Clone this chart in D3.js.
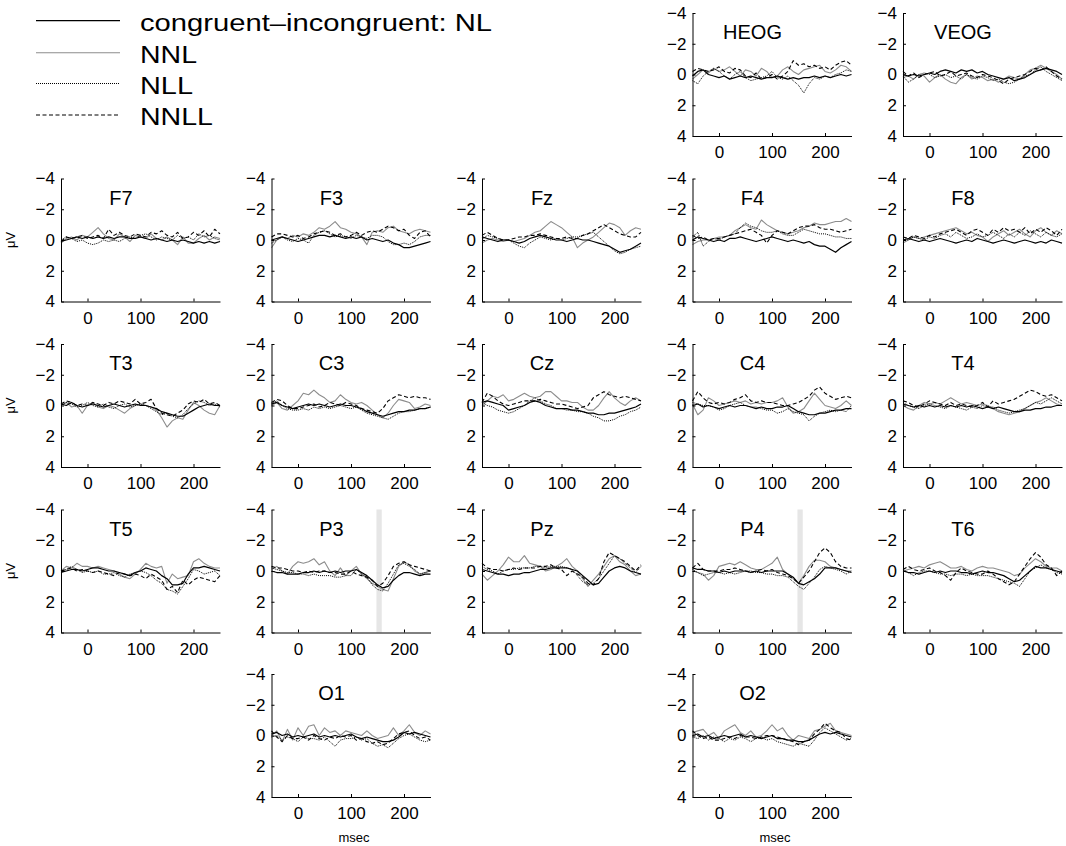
<!DOCTYPE html>
<html>
<head>
<meta charset="utf-8">
<script src="https://cdn.jsdelivr.net/npm/d3@7"></script>
<style>
	body { margin: 0; background: #fff; }
	svg text { font-family: "Liberation Sans", Arial, Helvetica, sans-serif; fill: #000; }
</style>
</head>
<body>
<svg id="chart" width="1066" height="846"></svg>
<script>

// sample times (msec)
var times = [-50,-40,-30,-20,-10, 0,10,20,30,40, 50,60,70,80,90, 100,110,120,130,140, 150,160,170,180,190, 200,210,220,230,240, 250];

var seriesNames = ['congruent\u2013incongruent: NL', 'NNL', 'NLL', 'NNLL'];
var yTicks = [-4, -2, 0, 2, 4];
var xTicks = [0, 100, 200];
var highlightRange = [148, 158];
var highlightChannels = ['P3', 'P4'];

// values in microvolts, one row per series: NL, NNL, NLL, NNLL
var HEOG = [
	[0.1,-0.2,-0.3,0.0,0.1, 0.2,0.1,0.3,0.2,0.1, 0.2,0.1,0.2,0.3,0.2, 0.2,0.1,0.2,0.3,0.2, 0.3,0.2,0.2,0.1,0.2, 0.1,0.2,0.1,0.0,0.1, 0.0],
	[0.3,0.0,-0.3,-0.1,-0.4, -0.2,-0.3,-0.5,-0.2,0.1, -0.3,-0.2,0.1,-0.4,-0.2, 0.2,0.1,-0.3,-0.5,-0.2, 0.0,-0.3,-0.4,-0.5,-0.6, -0.2,-0.1,-0.3,-0.6,-0.5, -0.2],
	[0.4,0.6,0.1,-0.2,-0.4, -0.2,0.1,0.3,0.0,-0.2, 0.2,0.4,0.3,0.2,0.1, -0.2,0.2,0.3,0.1,0.4, 0.7,1.2,0.6,0.2,0.3, 0.1,0.2,0.0,-0.1,-0.3, -0.2],
	[-0.2,-0.4,-0.3,-0.2,-0.3, -0.5,-0.2,-0.1,-0.4,-0.3, 0.1,0.2,-0.1,0.3,0.2, 0.0,0.3,0.1,-0.2,-0.9, -0.6,-0.7,-0.5,-0.6,-0.4, -0.5,-0.3,-0.6,-0.8,-0.9, -0.6]
];
var VEOG = [
	[0.0,0.1,0.0,0.1,0.0, -0.1,0.0,-0.2,-0.3,-0.2, -0.1,-0.3,-0.2,-0.3,-0.1, -0.2,0.0,0.1,0.2,0.3, 0.2,0.4,0.3,0.2,0.0, -0.2,-0.3,-0.4,-0.3,-0.2, 0.0],
	[0.2,0.1,0.3,0.0,0.1, 0.5,0.2,0.0,0.3,0.5, 0.6,0.2,0.0,0.3,0.1, 0.2,0.4,0.3,0.5,0.3, 0.1,0.2,0.3,0.0,-0.3, -0.4,-0.6,-0.4,-0.2,0.0, 0.3],
	[0.1,0.5,0.3,0.0,-0.1, 0.0,0.2,0.1,0.0,0.2, 0.1,0.3,0.0,0.2,0.3, 0.1,0.2,0.4,0.3,0.5, 0.6,0.5,0.3,0.1,0.0, -0.3,-0.5,-0.2,0.0,0.2, 0.4],
	[-0.2,0.1,-0.1,0.2,0.0, -0.1,-0.2,0.1,0.0,-0.2, 0.1,0.0,-0.1,0.1,0.2, 0.0,0.1,0.2,0.4,0.6, 0.3,0.2,0.1,0.0,-0.2, -0.4,-0.3,-0.5,-0.2,0.1, 0.3]
];
var F7 = [
	[0.1,0.0,-0.1,-0.2,-0.1, -0.2,-0.1,-0.2,-0.1,-0.2, -0.1,-0.2,-0.2,-0.1,-0.1, -0.2,-0.1,0.0,-0.1,0.0, 0.1,0.0,0.1,0.0,0.1, 0.2,0.1,0.2,0.1,0.2, 0.1],
	[0.2,-0.1,-0.2,0.0,-0.3, -0.2,-0.5,-0.8,-0.4,-0.1, 0.0,-0.4,-0.2,0.1,-0.3, -0.2,-0.1,-0.4,-0.1,0.0, -0.2,0.0,0.3,-0.2,0.2, 0.2,-0.1,-0.3,0.0,-0.2, -0.1],
	[0.0,-0.2,-0.1,0.1,0.0, 0.2,0.3,0.2,0.0,0.1, 0.0,0.1,-0.1,-0.2,-0.1, -0.3,-0.4,-0.2,0.0,-0.2, -0.1,0.0,-0.3,-0.1,-0.2, 0.0,-0.4,-0.2,-0.3,-0.1, 0.0],
	[0.1,-0.2,-0.1,-0.2,-0.3, -0.1,-0.2,-0.3,-0.1,-0.7, -0.3,-0.5,-0.3,-0.2,-0.4, -0.3,-0.2,-0.5,-0.4,-0.6, -0.3,-0.2,-0.5,-0.1,-0.2, -0.5,-0.3,-0.6,-0.2,-0.7, -0.4]
];
var F3 = [
	[0.0,-0.1,-0.2,-0.1,0.0, 0.1,0.0,-0.1,-0.2,-0.3, -0.3,-0.2,-0.3,-0.2,-0.1, -0.2,-0.1,-0.2,0.0,-0.1, 0.0,0.1,0.0,0.2,0.3, 0.5,0.5,0.4,0.3,0.2, 0.1],
	[0.5,0.0,-0.2,-0.1,-0.3, -0.2,-0.4,-0.3,-0.5,-0.8, -0.7,-0.9,-1.2,-0.8,-0.7, -0.5,-0.4,-0.2,0.3,-0.5, -0.6,-0.5,-0.8,-0.9,-0.6, -0.5,-0.4,-0.6,-0.7,-0.6, -0.5],
	[0.2,0.0,-0.2,0.0,0.1, -0.1,0.0,0.2,-0.3,-0.5, -0.6,-0.4,-0.2,-0.3,-0.2, -0.1,-0.3,-0.2,-0.1,-0.3, -0.3,-0.2,0.1,0.3,0.3, 0.2,0.3,0.1,-0.2,-0.3, -0.3],
	[-0.2,-0.4,-0.4,-0.3,-0.2, -0.3,-0.1,-0.2,-0.4,-0.5, -0.6,-0.5,-0.3,-0.4,-0.2, -0.3,-0.5,-0.3,-0.5,-0.6, -0.5,-0.7,-0.9,-0.8,-0.6, -0.7,-0.3,-0.1,-0.5,-0.6, -0.2]
];
var Fz = [
	[-0.2,-0.1,0.0,0.1,0.0, 0.0,0.1,0.2,0.1,-0.1, -0.2,-0.3,-0.2,-0.1,0.0, 0.0,0.1,0.0,-0.1,0.0, 0.0,0.1,0.2,0.3,0.4, 0.6,0.8,0.7,0.6,0.4, 0.2],
	[0.2,0.0,-0.1,0.0,0.1, 0.0,0.1,0.0,-0.1,-0.3, -0.5,-0.6,-0.9,-1.2,-1.0, -0.8,-0.5,-0.2,0.5,0.2, 0.0,-0.2,-0.5,-0.8,-1.1, -1.0,-0.8,-0.3,-0.6,-0.8, -0.7],
	[0.0,-0.3,-0.2,-0.1,0.0, 0.0,0.2,0.4,0.5,0.2, 0.0,-0.2,-0.1,0.0,-0.1, 0.0,-0.1,-0.2,-0.2,-0.3, -0.4,-0.5,-0.2,0.1,0.4, 0.7,0.9,0.8,0.6,0.5, 0.4],
	[-0.3,-0.5,-0.3,-0.1,0.0, 0.0,-0.1,-0.2,-0.2,-0.3, -0.3,-0.4,-0.3,-0.2,-0.1, -0.1,-0.2,-0.1,-0.1,-0.3, -0.4,-0.6,-0.8,-1.0,-0.8, -0.6,-0.4,-0.3,-0.2,-0.2, -0.5]
];
var F4 = [
	[0.0,-0.2,-0.1,0.0,0.1, 0.0,0.1,-0.1,-0.1,-0.2, -0.1,0.0,0.1,0.0,-0.1, -0.2,-0.1,0.0,0.1,0.0, 0.1,0.2,0.1,0.3,0.4, 0.4,0.6,0.8,0.5,0.3, 0.1],
	[0.3,0.1,0.0,0.0,-0.1, -0.2,-0.2,-0.3,-0.6,-0.8, -1.0,-0.8,-0.7,-1.3,-1.0, -0.8,-0.6,-0.5,-0.4,-0.5, -0.6,-0.8,-0.9,-1.1,-1.0, -1.0,-1.1,-1.2,-1.2,-1.4, -1.2],
	[-0.2,-0.5,0.4,0.1,-0.1, 0.0,-0.2,-0.3,-0.4,-0.8, -1.1,-0.9,-0.8,-0.6,-0.5, -0.5,-0.6,-0.4,-0.3,-0.3, -0.5,-0.7,-0.6,-0.5,-0.4, -0.4,-0.3,-0.2,-0.2,-0.1, -0.1],
	[-0.3,-0.1,-0.2,0.0,-0.1, -0.1,-0.2,-0.3,-0.4,-0.5, -0.6,-0.7,-0.5,-0.3,0.2, -0.3,-0.6,-0.5,-0.4,-0.6, -0.8,-0.9,-0.9,-1.0,-0.8, -0.7,-0.7,-0.6,-0.5,-0.6, -0.7]
];
var F8 = [
	[0.0,-0.1,0.0,0.1,0.0, 0.1,0.0,-0.1,0.0,0.1, 0.2,0.1,0.0,0.1,-0.1, 0.0,0.1,0.2,0.1,0.0, 0.1,0.2,0.1,0.0,0.1, 0.2,0.1,0.2,0.0,0.1, 0.2],
	[0.2,0.0,-0.2,-0.1,-0.2, -0.3,-0.4,-0.5,-0.6,-0.7, -0.8,-0.6,-0.4,-0.5,-0.3, -0.2,0.1,-0.2,-0.4,-0.6, -0.3,-0.5,-0.7,-0.4,-0.2, -0.6,-0.8,-0.5,-0.3,-0.6, -0.4],
	[-0.1,0.0,-0.2,-0.1,0.0, -0.2,-0.1,-0.3,-0.4,-0.2, -0.5,-0.3,-0.1,-0.2,-0.4, -0.2,-0.3,-0.5,-0.3,-0.1, -0.4,-0.2,-0.5,-0.3,-0.6, -0.4,-0.2,-0.5,-0.3,-0.2, -0.4],
	[-0.2,-0.1,-0.3,-0.2,-0.1, -0.3,-0.2,-0.4,-0.5,-0.6, -0.7,-0.5,-0.3,-0.6,-0.7, -0.5,-0.3,-0.7,-0.5,-0.8, -0.6,-0.7,-0.5,-0.8,-0.4, -0.7,-0.5,-0.8,-0.6,-0.3, -0.7]
];
var T3 = [
	[-0.1,0.0,-0.2,0.0,0.1, 0.0,-0.1,0.0,0.1,0.0, -0.1,0.0,0.1,0.0,-0.1, 0.0,0.0,0.1,0.2,0.4, 0.5,0.6,0.7,0.7,0.5, 0.3,0.1,0.0,-0.1,0.0, 0.0],
	[0.0,-0.2,0.1,0.0,0.5, 0.0,-0.2,0.1,0.2,0.0, 0.1,0.3,0.5,0.2,0.0, -0.1,0.0,0.1,0.3,0.8, 1.4,1.0,0.8,0.9,0.3, -0.2,0.0,0.3,0.5,0.6, 0.0],
	[0.0,-0.2,-0.1,0.1,0.0, -0.2,0.0,0.1,-0.1,0.1, 0.2,0.0,-0.1,0.1,0.0, -0.1,0.0,0.2,0.4,0.6, 0.5,0.7,0.8,0.6,0.2, -0.1,-0.3,-0.2,0.0,-0.1, 0.1],
	[-0.1,-0.3,-0.2,0.0,-0.1, 0.0,-0.2,-0.1,0.0,-0.2, -0.1,-0.3,-0.2,-0.1,-0.4, -0.1,-0.2,-0.4,0.2,0.5, 0.6,0.7,0.5,0.3,-0.1, -0.3,-0.2,-0.4,-0.1,-0.2, 0.0]
];
var C3 = [
	[-0.1,-0.2,0.0,0.1,0.2, 0.1,0.0,-0.1,0.0,-0.1, 0.0,0.1,0.0,-0.1,0.0, 0.0,0.1,0.2,0.4,0.5, 0.6,0.7,0.6,0.5,0.4, 0.4,0.3,0.3,0.2,0.2, 0.1],
	[0.0,-0.2,0.2,0.3,0.0, -0.3,-0.8,-0.7,-1.0,-0.7, -0.5,-0.2,-0.3,-0.7,-0.4, -0.2,-0.1,-0.2,0.0,0.3, 0.6,0.8,0.5,0.0,-0.4, -0.3,-0.2,0.2,0.1,-0.1, 0.0],
	[-0.1,-0.3,0.0,0.2,0.3, 0.3,0.2,0.3,0.1,0.2, 0.1,0.2,0.1,0.0,0.1, 0.2,0.1,0.3,0.5,0.6, 0.7,0.8,0.9,0.7,0.5, 0.4,0.4,0.3,0.2,0.2, 0.1],
	[-0.2,-0.4,-0.3,0.0,0.2, 0.2,0.1,0.0,-0.1,0.1, 0.0,-0.2,-0.1,0.0,-0.2, -0.1,0.0,0.2,0.3,0.4, 0.5,0.2,-0.3,-0.5,-0.7, -0.6,-0.5,-0.6,-0.5,-0.5, -0.4]
];
var Cz = [
	[-0.2,-0.3,-0.2,-0.1,0.0, 0.3,0.2,0.1,0.0,-0.2, -0.3,-0.2,0.0,0.1,0.2, 0.2,0.2,0.3,0.3,0.4, 0.5,0.5,0.6,0.6,0.5, 0.5,0.4,0.3,0.2,0.1, -0.1],
	[0.0,-0.3,-0.6,-0.5,-0.7, -0.3,-0.4,-0.6,-0.8,-0.6, -0.5,-0.6,-0.9,-0.9,-0.6, -0.3,-0.3,-0.2,-0.2,0.1, 0.3,0.3,0.0,-0.5,-0.9, -0.5,-0.2,0.0,-0.3,-0.5, -0.3],
	[-0.2,0.0,0.1,0.3,0.4, 0.5,0.4,0.2,0.0,-0.3, -0.5,-0.3,-0.1,0.0,0.2, 0.2,0.3,0.3,0.4,0.4, 0.5,0.7,0.8,1.0,1.0, 0.9,0.7,0.6,0.4,0.3, 0.1],
	[-0.2,-0.8,-0.6,-0.3,-0.1, 0.0,-0.1,-0.2,-0.3,-0.3, -0.3,-0.4,-0.3,-0.2,-0.1, -0.1,0.0,0.1,0.2,0.1, 0.0,-0.5,-0.7,-0.9,-0.7, -0.6,-0.5,-0.6,-0.5,-0.4, -0.3]
];
var C4 = [
	[0.0,-0.1,0.1,0.0,0.1, 0.2,0.1,0.0,0.1,0.0, 0.0,0.1,0.2,0.1,0.2, 0.2,0.1,0.1,0.0,0.2, 0.4,0.5,0.6,0.6,0.5, 0.5,0.4,0.3,0.3,0.2, 0.2],
	[-0.1,0.6,0.3,-0.5,-0.3, 0.0,-0.1,-0.2,-0.3,-0.2, -0.3,-0.1,-0.2,-0.1,-0.2, -0.2,-0.3,-0.5,0.1,0.5, 0.4,0.2,-0.3,-0.8,-0.4, 0.0,0.1,0.2,0.0,-0.3, 0.0],
	[-0.2,-0.1,0.0,0.0,0.1, 0.3,0.2,0.0,-0.1,-0.2, 0.0,0.1,0.1,0.2,0.3, 0.3,0.5,0.4,0.2,0.4, 0.5,0.6,1.0,0.7,0.5, 0.4,0.3,0.4,0.3,0.4, 0.0],
	[-0.3,-0.9,-0.5,-0.2,-0.1, -0.2,-0.1,-0.2,-0.4,-0.5, -0.7,-0.3,-0.2,-0.3,-0.2, -0.2,-0.1,0.0,0.0,-0.1, -0.2,-0.4,-0.6,-1.0,-1.2, -0.8,-0.6,-0.4,-0.5,-0.6, -0.5]
];
var T4 = [
	[-0.1,0.0,0.1,0.0,0.1, 0.0,0.1,0.0,0.1,0.0, 0.1,0.0,0.1,0.0,0.1, 0.2,0.1,0.2,0.1,0.2, 0.3,0.4,0.4,0.3,0.3, 0.2,0.2,0.1,0.1,0.0, 0.0],
	[0.0,0.2,0.3,0.0,-0.2, -0.1,-0.2,-0.1,-0.3,-0.5, -0.3,-0.1,-0.2,-0.1,0.0, -0.1,0.0,0.2,0.4,0.5, 0.6,0.5,0.4,0.2,0.0, -0.2,-0.3,-0.5,-0.3,-0.1, 0.0],
	[-0.2,0.0,0.1,0.2,0.0, -0.1,0.0,0.1,0.2,0.0, 0.1,0.2,0.3,0.1,0.2, 0.0,0.1,0.1,0.3,0.4, 0.5,0.4,0.3,0.2,0.0, -0.2,-0.1,-0.3,-0.5,-0.3, -0.1],
	[-0.3,-0.2,0.0,0.1,-0.1, -0.3,-0.2,-0.1,0.0,-0.2, 0.0,-0.1,0.0,0.1,0.0, -0.2,0.1,-0.3,-0.1,-0.2, -0.3,-0.4,-0.6,-0.8,-1.0, -0.9,-0.7,-0.6,-0.7,-0.5, -0.3]
];
var T5 = [
	[0.1,0.0,-0.1,-0.1,0.0, -0.1,-0.2,-0.2,-0.1,0.0, 0.0,0.1,0.2,0.3,0.1, 0.0,-0.2,-0.1,0.0,0.3, 0.5,0.9,0.9,0.8,0.2, -0.2,-0.2,-0.3,-0.2,-0.1, 0.0],
	[0.0,-0.3,-0.2,-0.5,-0.3, -0.3,-0.2,-0.3,-0.2,-0.1, 0.0,0.2,0.4,0.5,0.2, -0.1,-0.5,-0.3,-0.2,-0.3, 0.8,0.2,0.5,0.4,0.3, -0.6,-0.8,-0.5,-0.3,-0.2, -0.2],
	[0.0,-0.1,-0.3,-0.1,0.1, 0.0,0.1,0.0,0.2,0.2, 0.1,0.3,0.4,0.2,0.1, 0.0,0.1,0.3,0.6,0.8, 1.2,1.3,1.5,1.0,0.5, -0.1,0.0,0.2,0.1,0.0, 0.3],
	[0.0,-0.1,-0.2,0.0,-0.1, 0.0,0.1,0.0,0.1,0.2, 0.3,0.1,0.2,0.3,0.2, 0.3,0.5,0.2,0.4,0.6, 1.2,1.0,1.4,0.6,0.9, 0.6,0.4,0.5,0.6,0.7, 0.3]
];
var P3 = [
	[0.0,0.1,0.1,0.2,0.2, 0.2,0.1,0.1,0.0,0.1, 0.0,0.1,0.0,0.1,0.0, 0.0,-0.1,0.1,0.3,0.6, 0.9,1.1,1.0,0.6,0.3, 0.1,0.1,0.2,0.3,0.2, 0.2],
	[-0.1,-0.3,0.0,0.2,-0.3, -0.6,-0.5,-0.6,-0.8,-0.4, -0.6,0.0,0.3,-0.2,0.3, 0.0,-0.3,0.2,0.5,0.8, 1.0,1.2,1.3,0.5,-0.3, -0.6,-0.4,0.0,0.2,0.1, 0.0],
	[-0.2,-0.1,0.0,0.1,0.1, 0.2,0.2,0.3,0.2,0.3, 0.3,0.3,0.4,0.4,0.3, 0.3,-0.1,0.2,0.4,0.9, 1.2,1.3,0.8,0.2,-0.4, -0.5,-0.3,-0.1,0.2,0.1, 0.0],
	[-0.3,-0.2,-0.2,-0.1,0.0, 0.0,0.1,0.0,0.1,0.0, 0.0,0.1,0.1,0.2,0.2, 0.0,0.2,0.3,0.4,0.6, 1.0,0.8,0.3,-0.3,-0.5, -0.6,-0.4,-0.3,-0.2,-0.1, 0.0]
];
var Pz = [
	[-0.1,0.0,0.1,0.2,0.2, 0.3,0.2,0.2,0.1,0.1, 0.0,-0.1,-0.1,-0.2,-0.2, -0.2,-0.2,-0.1,0.0,0.3, 0.6,0.9,0.8,0.4,0.0, -0.2,-0.3,-0.2,0.0,0.1, 0.2],
	[0.2,0.6,0.3,0.0,-0.4, -0.9,-0.6,-0.6,-1.0,-0.5, -0.4,-0.3,0.0,-0.1,-0.3, -0.5,-0.8,-0.3,0.0,0.5, 1.0,0.6,0.2,-0.3,-0.8, -1.0,-0.6,-0.4,0.0,0.3, 0.2],
	[-0.3,-0.1,0.0,0.2,0.0, -0.1,-0.1,-0.2,-0.2,-0.2, -0.3,-0.3,-0.2,-0.3,-0.3, -0.3,-0.2,-0.1,0.3,0.7, 0.9,0.8,0.5,0.0,-0.5, -1.0,-0.8,-0.5,-0.2,0.1, -0.3],
	[-0.5,-0.2,-0.1,-0.1,0.0, -0.1,-0.2,-0.1,-0.2,-0.2, -0.2,-0.3,-0.3,-0.4,-0.2, -0.1,0.3,0.0,0.2,0.4, 0.8,0.9,0.5,-0.6,-1.2, -1.0,-0.8,-0.6,-0.3,0.0, -0.4]
];
var P4 = [
	[-0.2,-0.1,-0.1,0.0,0.0, 0.1,0.0,0.1,0.0,0.0, 0.0,0.1,0.0,0.1,0.0, 0.0,0.0,0.0,0.2,0.4, 0.8,0.9,0.7,0.5,0.2, -0.2,-0.2,-0.2,-0.1,0.0, 0.1],
	[0.0,0.1,0.2,0.6,0.3, -0.3,-0.4,-0.5,-0.4,-0.6, -0.4,-0.2,-0.1,-0.1,-0.3, -0.5,-0.9,-0.1,0.2,0.5, 0.8,0.3,-0.3,-0.7,-0.7, -0.6,-0.3,-0.2,-0.1,0.0, 0.0],
	[-0.1,0.1,0.3,0.2,0.1, 0.1,0.2,0.1,0.2,0.1, 0.0,0.0,0.1,0.1,0.2, 0.2,0.3,0.3,0.4,0.7, 1.0,1.2,0.8,0.4,-0.1, -0.3,-0.2,-0.1,0.0,0.2, 0.0],
	[-0.2,-0.5,-0.1,0.0,0.0, 0.0,-0.1,-0.1,-0.2,-0.1, 0.0,0.1,0.0,-0.1,0.0, -0.1,0.1,0.2,0.3,0.5, 0.8,0.4,0.0,-0.6,-1.2, -1.5,-1.2,-0.6,-0.3,-0.2, -0.2]
];
var T6 = [
	[0.0,0.1,0.1,0.2,0.1, 0.0,0.1,0.0,0.1,0.0, 0.0,0.1,0.1,0.2,0.1, 0.0,0.1,0.1,0.2,0.3, 0.5,0.7,0.6,0.3,0.0, -0.3,-0.2,-0.2,-0.1,0.0, 0.1],
	[0.0,-0.1,-0.2,-0.3,-0.2, -0.4,-0.5,-0.6,-0.4,-0.2, -0.2,-0.3,-0.1,0.0,-0.2, -0.3,-0.2,-0.2,-0.1,0.0, 0.1,0.3,0.2,-0.2,-0.5, -0.8,-0.6,-0.3,-0.2,-0.2, 0.0],
	[-0.1,0.1,0.3,0.1,0.0, 0.0,0.1,0.2,0.2,0.3, 0.2,0.2,0.3,0.2,0.3, 0.3,0.3,0.4,0.5,0.6, 0.7,0.8,1.0,0.5,0.0, -0.2,-0.4,-0.2,-0.1,0.1, 0.2],
	[-0.1,-0.3,-0.1,0.0,-0.1, -0.2,0.0,0.1,0.3,0.6, 0.1,-0.2,0.0,0.1,0.2, 0.2,0.0,0.2,0.5,0.7, 0.9,0.7,0.2,-0.3,-0.8, -1.2,-0.9,-0.4,-0.2,0.3, 0.0]
];
var O1 = [
	[-0.1,-0.2,0.0,-0.1,0.1, 0.0,0.1,0.0,-0.1,0.1, 0.0,0.1,0.0,0.1,0.0, -0.1,0.1,0.2,0.1,0.2, 0.3,0.4,0.4,0.3,0.1, -0.2,-0.1,-0.2,-0.1,0.0, 0.1],
	[0.0,-0.3,0.4,-0.4,0.3, -0.5,0.0,-0.6,-0.7,0.0, -0.5,-0.2,-0.3,0.0,-0.3, -0.2,-0.1,0.0,-0.3,0.0, 0.2,0.1,0.0,-0.5,0.0, -0.3,-0.7,-0.2,0.0,-0.3, -0.1],
	[0.1,0.0,0.3,0.1,0.2, 0.4,0.1,0.2,0.2,0.3, 0.1,0.4,0.7,0.3,0.2, 0.2,0.1,0.3,0.2,0.5, 0.7,0.6,0.8,0.5,0.2, 0.0,-0.1,0.1,0.3,0.4, 0.3],
	[-0.3,0.1,0.4,0.0,0.2, 0.2,0.1,0.3,0.0,0.2, 0.3,0.1,0.2,0.0,0.1, 0.0,0.3,0.2,0.4,0.5, 0.4,0.6,0.5,0.2,-0.1, -0.2,-0.3,0.0,0.2,0.1, 0.3]
];
var O2 = [
	[0.0,-0.1,0.1,0.0,0.2, 0.1,0.0,0.1,0.0,-0.1, 0.1,0.0,0.1,0.2,0.1, 0.0,0.2,0.2,0.3,0.3, 0.4,0.4,0.3,0.1,-0.1, -0.2,-0.1,-0.2,-0.1,0.0, 0.1],
	[-0.2,-0.3,-0.4,0.0,-0.2, 0.2,-0.3,-0.5,-0.7,-0.2, 0.0,-0.3,0.1,0.0,-0.3, -0.7,-0.3,-0.5,0.0,0.3, 0.0,0.1,0.2,-0.3,-0.4, -0.6,-0.8,-0.3,-0.2,-0.1, 0.0],
	[0.1,0.2,0.0,0.3,0.1, 0.2,0.4,0.2,0.3,0.1, 0.2,0.4,0.2,0.1,0.3, 0.2,0.4,0.5,0.6,0.7, 0.5,0.6,0.7,0.3,-0.2, -0.5,-0.3,-0.1,0.1,0.3, 0.2],
	[-0.3,0.0,0.2,0.1,0.3, 0.3,0.2,0.1,0.2,0.0, 0.1,0.1,0.2,0.1,0.0, 0.0,0.1,0.2,0.3,0.4, 0.6,0.4,0.3,-0.1,-0.4, -0.8,-0.5,-0.3,-0.2,0.2, 0.3]
];

// grid placement of each channel: [name, data, column, row]
var panels = [
	['HEOG', HEOG, 3, 0], ['VEOG', VEOG, 4, 0],
	['F7', F7, 0, 1], ['F3', F3, 1, 1], ['Fz', Fz, 2, 1], ['F4', F4, 3, 1], ['F8', F8, 4, 1],
	['T3', T3, 0, 2], ['C3', C3, 1, 2], ['Cz', Cz, 2, 2], ['C4', C4, 3, 2], ['T4', T4, 4, 2],
	['T5', T5, 0, 3], ['P3', P3, 1, 3], ['Pz', Pz, 2, 3], ['P4', P4, 3, 3], ['T6', T6, 4, 3],
	['O1', O1, 1, 4], ['O2', O2, 3, 4]
];

var colX = [61, 271.5, 482, 692.5, 903];
var rowY = [13, 178.5, 344, 509.5, 674];
var plotW = 159, plotH = 123;
var fontFamily = '"Liberation Sans", Arial, Helvetica, sans-serif';

var lineStyles = [
	{ stroke: '#000', width: 1.2, dash: null },
	{ stroke: '#8c8c8c', width: 1.1, dash: null },
	{ stroke: '#000', width: 1, dash: '1,1' },
	{ stroke: '#000', width: 1.1, dash: '4,2.5' }
];
var drawOrder = [1, 2, 3, 0];

var svg = d3.select('#chart');

var x = d3.scaleLinear().domain([-50, 250]).range([0, plotW]);
var y = d3.scaleLinear().domain([-4, 4]).range([0, plotH]);

var minusFormat = function(d) { return d < 0 ? '\u2212' + Math.abs(d) : String(d); };

var line = d3.line()
	.x(function(d, i) { return x(times[i]); })
	.y(function(d) { return y(d); });

/**
 * Draws one channel panel
 */
panels.forEach(function(p) {

	var name = p[0], data = p[1], col = p[2], row = p[3];
	var g = svg.append('g').attr('transform', 'translate(' + colX[col] + ',' + rowY[row] + ')');

	if (highlightChannels.indexOf(name) >= 0) {
		g.append('rect')
			.attr('x', x(highlightRange[0]))
			.attr('y', 0)
			.attr('width', x(highlightRange[1]) - x(highlightRange[0]))
			.attr('height', plotH)
			.attr('fill', '#e6e6e6');
	}

	drawOrder.forEach(function(s) {
		var st = lineStyles[s];
		g.append('path')
			.attr('d', line(data[s]))
			.attr('fill', 'none')
			.attr('stroke', st.stroke)
			.attr('stroke-width', st.width)
			.attr('stroke-dasharray', st.dash)
			.attr('stroke-linejoin', 'round');
	});

	var yAxis = g.append('g')
		.call(d3.axisLeft(y).tickValues(yTicks).tickSizeInner(-3).tickSizeOuter(0).tickPadding(6).tickFormat(minusFormat));
	var xAxis = g.append('g')
		.attr('transform', 'translate(0,' + plotH + ')')
		.call(d3.axisBottom(x).tickValues(xTicks).tickSizeInner(-3).tickSizeOuter(0).tickPadding(10));

	[yAxis, xAxis].forEach(function(a) {
		a.attr('font-size', 17).attr('font-family', fontFamily);
		a.selectAll('.domain').attr('stroke', '#000').attr('stroke-width', 1);
		a.selectAll('.tick line').attr('stroke', '#000');
	});

	g.append('text')
		.attr('x', 60)
		.attr('y', 26)
		.attr('text-anchor', 'middle')
		.attr('font-size', 20)
		.text(name);

	if (col === 0) {
		g.append('text')
			.attr('transform', 'translate(-46,' + y(0) + ') rotate(-90)')
			.attr('text-anchor', 'middle')
			.attr('font-size', 13)
			.text('\u03bcV');
	}

	if (row === 4) {
		g.append('text')
			.attr('x', plotW / 2 + 3)
			.attr('y', plotH + 45)
			.attr('text-anchor', 'middle')
			.attr('font-size', 13)
			.text('msec');
	}
});

/**
 * Legend
 */
var legendY = [20.7, 52.7, 83.5, 115];
var legendTextLen = [352, 57, 53, 73];
var legend = svg.append('g');
seriesNames.forEach(function(n, i) {
	var st = lineStyles[i];
	legend.append('line')
		.attr('x1', 36).attr('x2', 120)
		.attr('y1', legendY[i]).attr('y2', legendY[i])
		.attr('stroke', st.stroke)
		.attr('stroke-width', st.width)
		.attr('stroke-dasharray', st.dash);
	legend.append('text')
		.attr('x', 140)
		.attr('y', legendY[i] + 10)
		.attr('font-size', 23)
		.attr('textLength', legendTextLen[i])
		.attr('lengthAdjust', 'spacingAndGlyphs')
		.text(n);
});

</script>
</body>
</html>
